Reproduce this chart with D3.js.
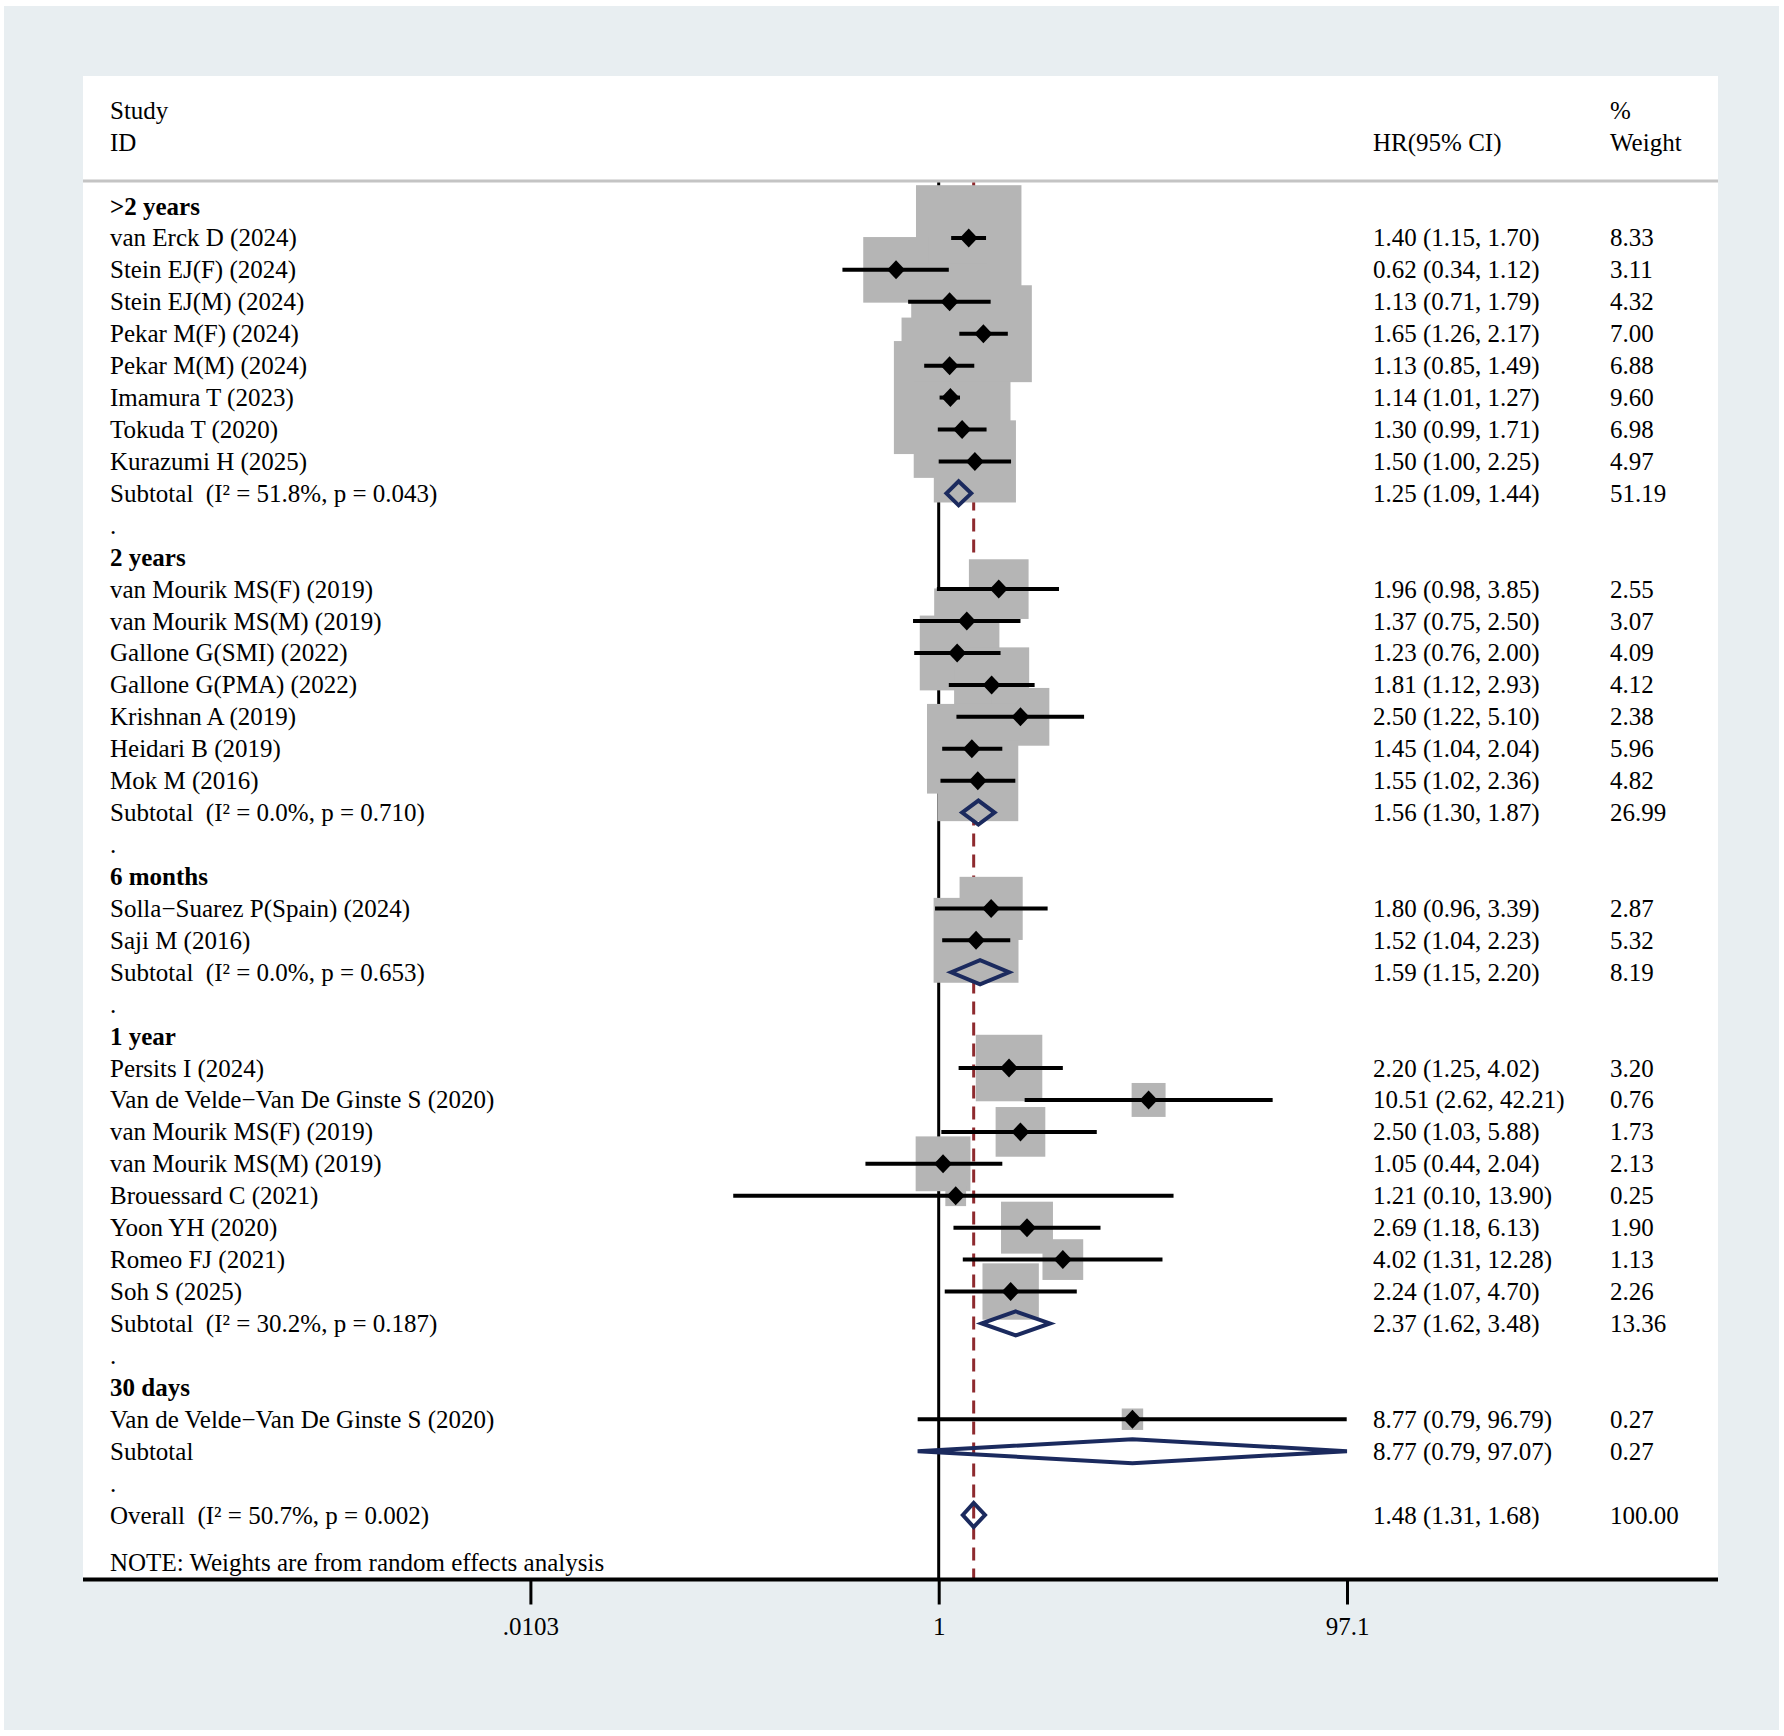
<!DOCTYPE html>
<html>
<head>
<meta charset="utf-8">
<script src="https://cdn.jsdelivr.net/npm/d3@7"></script>
<style>
  html, body { margin: 0; padding: 0; background: #ffffff; }
  svg { display: block; }
  text { font-family: "Liberation Serif", "Times New Roman", serif; fill: #000; white-space: pre; }
</style>
</head>
<body>
<svg id="chart" width="1784" height="1736"></svg>
<script>
// ---------------- DATA ----------------
const groups = [">2 years", "2 years", "6 months", "1 year", "30 days"];

const studyNames = [
  "van Erck D (2024)", "Stein EJ(F) (2024)", "Stein EJ(M) (2024)", "Pekar M(F) (2024)",
  "Pekar M(M) (2024)", "Imamura T (2023)", "Tokuda T (2020)", "Kurazumi H (2025)",
  "van Mourik MS(F) (2019)", "van Mourik MS(M) (2019)", "Gallone G(SMI) (2022)", "Gallone G(PMA) (2022)",
  "Krishnan A (2019)", "Heidari B (2019)", "Mok M (2016)",
  "Solla\u2212Suarez P(Spain) (2024)", "Saji M (2016)",
  "Persits I (2024)", "Van de Velde\u2212Van De Ginste S (2020)", "van Mourik MS(F) (2019)", "van Mourik MS(M) (2019)",
  "Brouessard C (2021)", "Yoon YH (2020)", "Romeo FJ (2021)", "Soh S (2025)",
  "Van de Velde\u2212Van De Ginste S (2020)"
];
const studyGroup = [0,0,0,0,0,0,0,0, 1,1,1,1,1,1,1, 2,2, 3,3,3,3,3,3,3,3, 4];
const studyHR = [1.40,0.62,1.13,1.65,1.13,1.14,1.30,1.50, 1.96,1.37,1.23,1.81,2.50,1.45,1.55, 1.80,1.52, 2.20,10.51,2.50,1.05,1.21,2.69,4.02,2.24, 8.77];
const studyLo = [1.15,0.34,0.71,1.26,0.85,1.01,0.99,1.00, 0.98,0.75,0.76,1.12,1.22,1.04,1.02, 0.96,1.04, 1.25,2.62,1.03,0.44,0.10,1.18,1.31,1.07, 0.79];
const studyHi = [1.70,1.12,1.79,2.17,1.49,1.27,1.71,2.25, 3.85,2.50,2.00,2.93,5.10,2.04,2.36, 3.39,2.23, 4.02,42.21,5.88,2.04,13.90,6.13,12.28,4.70, 96.79];
const studyWeight = [8.33,3.11,4.32,7.00,6.88,9.60,6.98,4.97, 2.55,3.07,4.09,4.12,2.38,5.96,4.82, 2.87,5.32, 3.20,0.76,1.73,2.13,0.25,1.90,1.13,2.26, 0.27];

const subHR = [1.25, 1.56, 1.59, 2.37, 8.77];
const subLo = [1.09, 1.30, 1.15, 1.62, 0.79];
const subHi = [1.44, 1.87, 2.20, 3.48, 97.07];
const subWeight = [51.19, 26.99, 8.19, 13.36, 0.27];
const subHet = ["(I\u00B2 = 51.8%, p = 0.043)", "(I\u00B2 = 0.0%, p = 0.710)", "(I\u00B2 = 0.0%, p = 0.653)", "(I\u00B2 = 30.2%, p = 0.187)", ""];

const overallHR = 1.48, overallLo = 1.31, overallHi = 1.68, overallWeight = 100.00;
const overallHet = "(I\u00B2 = 50.7%, p = 0.002)";

const tickValues = [0.0103, 1, 97.1];
const tickLabels = [".0103", "1", "97.1"];

const headerLeft = ["Study", "ID"];
const headerHR = "HR(95% CI)";
const headerWeight = ["%", "Weight"];
const noteText = "NOTE: Weights are from random effects analysis";

// ---------------- BUILD ROWS ----------------
const rows = [];
groups.forEach((g, gi) => {
  rows.push({type: "group", label: g});
  studyNames.forEach((n, i) => {
    if (studyGroup[i] === gi) rows.push({type: "study", label: n, hr: studyHR[i], lo: studyLo[i], hi: studyHi[i], w: studyWeight[i]});
  });
  rows.push({type: "subtotal", label: "Subtotal" + (subHet[gi] ? "  " + subHet[gi] : ""), hr: subHR[gi], lo: subLo[gi], hi: subHi[gi], w: subWeight[gi]});
  rows.push({type: "spacer", label: "."});
});
rows.push({type: "overall", label: "Overall  " + overallHet, hr: overallHR, lo: overallLo, hi: overallHi, w: overallWeight});
rows.forEach((r, i) => r.idx = i);

// ---------------- LAYOUT ----------------
const W = 1784, H = 1736;
const plotL = 83, plotR = 1718, plotT = 76, axisY = 1579.5, headLineY = 181;
const fs = 25;
const xStudy = 110, xHR = 1373, xWt = 1610;

const x = d3.scaleLog().domain([tickValues[0], tickValues[2]]).range([530.4, 1347]);
const y = d3.scaleLinear().domain([0, rows.length - 1]).range([206, 1515]);
const boxSide = w => 3 + 35.5 * Math.sqrt(w);
const f2 = d3.format(".2f");
const base = 8.5;

const svg = d3.select("#chart");

// backgrounds
svg.append("rect").attr("x", 0).attr("y", 0).attr("width", W).attr("height", H).attr("fill", "#ffffff");
svg.append("rect").attr("x", 4).attr("y", 6).attr("width", 1775).attr("height", 1724).attr("fill", "#e8eef1");
svg.append("rect").attr("x", plotL).attr("y", plotT).attr("width", plotR - plotL).attr("height", axisY - plotT).attr("fill", "#ffffff");

// header separator
svg.append("line").attr("x1", plotL).attr("x2", plotR).attr("y1", headLineY).attr("y2", headLineY)
  .attr("stroke", "#c4c4c4").attr("stroke-width", 3);

// null line and overall dashed line
svg.append("line").attr("x1", x(1)).attr("x2", x(1)).attr("y1", headLineY + 1.5).attr("y2", axisY)
  .attr("stroke", "#000").attr("stroke-width", 3);
svg.append("line").attr("x1", x(overallHR)).attr("x2", x(overallHR)).attr("y1", headLineY + 1.5).attr("y2", axisY)
  .attr("stroke", "#8e2a2e").attr("stroke-width", 3).attr("stroke-dasharray", "13,8");

const studies = rows.filter(r => r.type === "study");

// boxes
svg.append("g").selectAll("rect").data(studies).join("rect")
  .attr("x", d => x(d.hr) - boxSide(d.w) / 2)
  .attr("y", d => y(d.idx) - boxSide(d.w) / 2)
  .attr("width", d => boxSide(d.w))
  .attr("height", d => boxSide(d.w))
  .attr("fill", "#b5b5b5");

// CI lines
svg.append("g").selectAll("line").data(studies).join("line")
  .attr("x1", d => x(d.lo)).attr("x2", d => x(d.hi))
  .attr("y1", d => y(d.idx)).attr("y2", d => y(d.idx))
  .attr("stroke", "#000").attr("stroke-width", 4);

// point diamonds
svg.append("g").selectAll("path").data(studies).join("path")
  .attr("d", d => {
    const cx = x(d.hr), cy = y(d.idx), a = 9, b = 9.5;
    return `M${cx - a},${cy}L${cx},${cy - b}L${cx + a},${cy}L${cx},${cy + b}Z`;
  })
  .attr("fill", "#000");

// pooled diamonds
const pooled = rows.filter(r => r.type === "subtotal" || r.type === "overall");
svg.append("g").selectAll("path").data(pooled).join("path")
  .attr("d", d => {
    const cy = y(d.idx), h = 12;
    return `M${x(d.lo)},${cy}L${x(d.hr)},${cy - h}L${x(d.hi)},${cy}L${x(d.hr)},${cy + h}Z`;
  })
  .attr("fill", "none").attr("stroke", "#1b2a5e").attr("stroke-width", 4).attr("stroke-linejoin", "miter");

// axis line
svg.append("line").attr("x1", plotL).attr("x2", plotR).attr("y1", axisY).attr("y2", axisY)
  .attr("stroke", "#000").attr("stroke-width", 4);

// axis ticks via d3 axis
const axisG = svg.append("g").attr("transform", `translate(0,${axisY})`)
  .call(d3.axisBottom(x).tickValues(tickValues).tickFormat((d, i) => tickLabels[i]).tickSize(25).tickPadding(13));
axisG.select(".domain").remove();
axisG.selectAll(".tick line").attr("stroke", "#000").attr("stroke-width", 3);
axisG.selectAll(".tick text").attr("font-family", "Liberation Serif, serif").attr("font-size", fs).attr("fill", "#000");

// texts
const tg = svg.append("g").attr("font-size", fs);
tg.selectAll("text.h1").data(headerLeft).join("text")
  .attr("x", xStudy).attr("y", (d, i) => y(i - 3) + base).text(d => d);
tg.append("text").attr("x", xHR).attr("y", y(-2) + base).text(headerHR);
tg.selectAll("text.h3").data(headerWeight).join("text")
  .attr("x", xWt).attr("y", (d, i) => y(i - 3) + base).text(d => d);

tg.selectAll("text.lab").data(rows).join("text")
  .attr("class", "lab")
  .attr("x", xStudy).attr("y", d => y(d.idx) + base)
  .attr("font-weight", d => d.type === "group" ? "bold" : "normal")
  .text(d => d.label);

const numeric = rows.filter(r => r.hr !== undefined);
tg.selectAll("text.hr").data(numeric).join("text")
  .attr("class", "hr")
  .attr("x", xHR).attr("y", d => y(d.idx) + base)
  .text(d => `${f2(d.hr)} (${f2(d.lo)}, ${f2(d.hi)})`);
tg.selectAll("text.wt").data(numeric).join("text")
  .attr("class", "wt")
  .attr("x", xWt).attr("y", d => y(d.idx) + base)
  .text(d => f2(d.w));

tg.append("text").attr("x", xStudy).attr("y", y(rows.length - 1 + 1.5) + base).text(noteText);
</script>
</body>
</html>
